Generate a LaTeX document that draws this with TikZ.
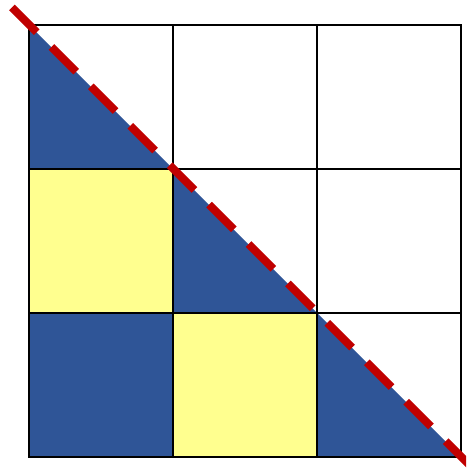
\documentclass[tikz,border=0pt]{standalone}
\definecolor{cellblue}{HTML}{2F5597}
\definecolor{cellyellow}{HTML}{FFFF8F}
\definecolor{diagred}{HTML}{C00000}
\begin{document}
\begin{tikzpicture}[x=1pt,y=-1pt,
  gridline/.style={black,line width=2.8pt,line cap=rect},
  diag/.style={diagred,line width=8pt,dash pattern=on 35pt off 20.75pt}]
\useasboundingbox (0,0) rectangle (466,468);
\clip (0,0) rectangle (466,468);
% yellow cells
\fill[cellyellow] (29,169) rectangle (173,313);
\fill[cellyellow] (173,313) rectangle (317,457);
% blue cell and triangles
\fill[cellblue] (29,313) rectangle (173,457);
\fill[cellblue] (29,25) -- (29,169) -- (173,169) -- cycle;
\fill[cellblue] (173,169) -- (173,313) -- (317,313) -- cycle;
\fill[cellblue] (317,313) -- (317,457) -- (461,457) -- cycle;
% grid
\foreach \v in {29,173,317,461} {
  \draw[gridline] (\v,25) -- (\v,457);
}
\foreach \h in {25,169,313,457} {
  \draw[gridline] (29,\h) -- (461,\h);
}
% diagonal dashed line
\draw[diag] (12,7.5) -- (475,470.5);
\end{tikzpicture}
\end{document}
